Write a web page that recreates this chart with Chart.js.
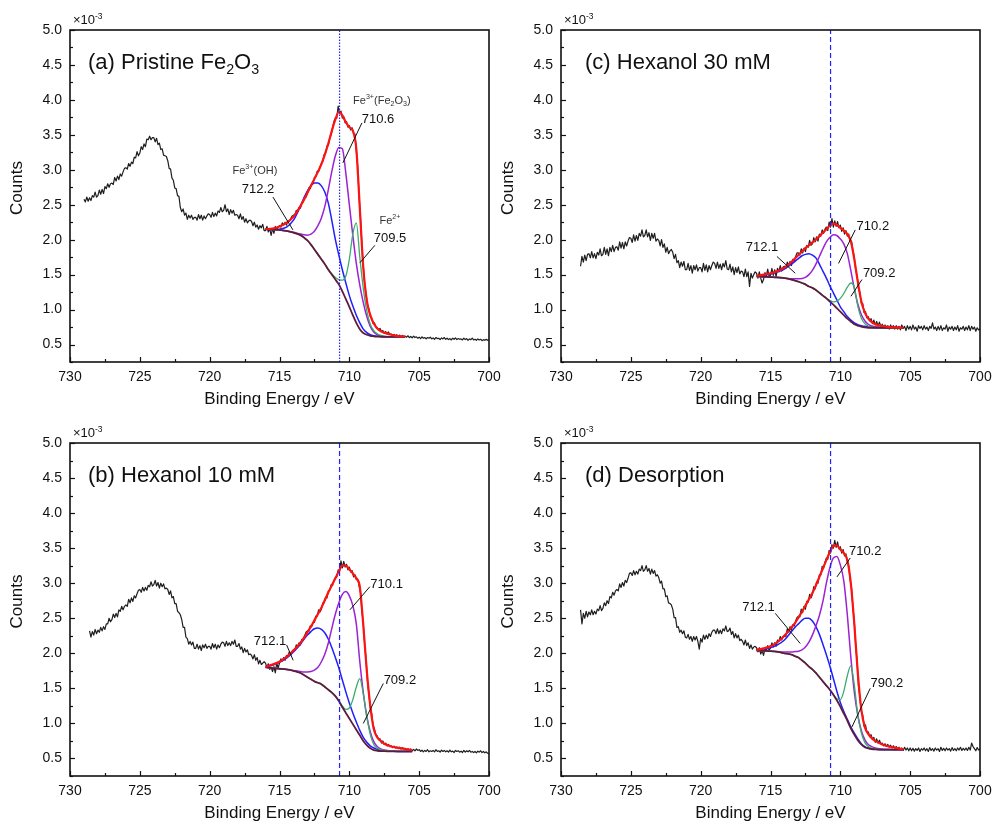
<!DOCTYPE html>
<html>
<head>
<meta charset="utf-8">
<title>Fe 2p XPS</title>
<script src="https://cdn.jsdelivr.net/npm/chart.js@4.4.1/dist/chart.umd.min.js"></script>
<style>
  html, body { margin: 0; padding: 0; background: #fff; }
  #fig { position: relative; width: 992px; height: 825px; overflow: hidden; }
  #fig canvas { position: absolute; }
</style>
</head>
<body>
<div id="fig">
  <canvas id="panel-a" width="510" height="412" style="left:0;top:0"></canvas>
  <canvas id="panel-c" width="510" height="412" style="left:482px;top:0"></canvas>
  <canvas id="panel-b" width="510" height="413" style="left:0;top:412px"></canvas>
  <canvas id="panel-d" width="510" height="413" style="left:482px;top:412px"></canvas>
</div>
<script>
/* ── Fe 2p spectra: 4 panels, raw counts + fitted components ─────────── */
const FONT = '"Liberation Sans", Arial, sans-serif';
const X_MIN = 700, X_MAX = 730, X_STEP = 2.5;
const Y_MIN = 0.25, Y_MAX = 5.0, Y_STEP = 0.25;
const REF_E = 710.7;          // dashed reference line (eV)
const EXP_STEP = 0.1;         // spacing of the measured points (eV)

// energies of the fitted curves (eV)
const FIT_E = [716, 715.5, 715, 714.5, 714, 713.5, 713.25, 713, 712.75, 712.5, 712.25, 712,
  711.75, 711.5, 711.25, 711, 710.75, 710.5, 710.25, 710, 709.75, 709.5, 709.25, 709,
  708.75, 708.5, 708.25, 708, 707.75, 707.5, 707, 706.5, 706, 705.5];

// ── (a) Pristine Fe2O3 ── measured counts, 729.0 eV downwards, one row per eV
const EXP_A_START = 729.0;
const EXP_A = [
  2.58, 2.54, 2.61, 2.55, 2.60, 2.56, 2.63, 2.61, 2.68, 2.61,
  2.63, 2.71, 2.65, 2.72, 2.66, 2.76, 2.73, 2.80, 2.75, 2.80,
  2.81, 2.79, 2.89, 2.84, 2.91, 2.86, 2.94, 2.91, 2.97, 3.02,
  3.03, 3.01, 3.09, 3.05, 3.11, 3.09, 3.18, 3.17, 3.26, 3.20,
  3.24, 3.33, 3.29, 3.37, 3.33, 3.44, 3.43, 3.48, 3.43, 3.46,
  3.46, 3.40, 3.45, 3.36, 3.38, 3.29, 3.30, 3.21, 3.20, 3.19,
  3.13, 3.02, 3.01, 2.88, 2.85, 2.74, 2.73, 2.63, 2.62, 2.46,
  2.40, 2.44, 2.35, 2.38, 2.29, 2.35, 2.31, 2.35, 2.29, 2.32,
  2.32, 2.28, 2.36, 2.30, 2.35, 2.28, 2.34, 2.30, 2.34, 2.37,
  2.36, 2.32, 2.39, 2.33, 2.38, 2.34, 2.41, 2.39, 2.46, 2.40,
  2.42, 2.50, 2.40, 2.44, 2.36, 2.43, 2.38, 2.42, 2.35, 2.36,
  2.35, 2.30, 2.37, 2.29, 2.33, 2.25, 2.30, 2.24, 2.27, 2.28,
  2.26, 2.20, 2.25, 2.18, 2.21, 2.15, 2.20, 2.17, 2.22, 2.13,
  2.13, 2.19, 2.11, 2.16, 2.06, 2.16, 2.09, 2.19, 2.14, 2.18,
  2.20, 2.18, 2.24, 2.21, 2.25, 2.21, 2.27, 2.26, 2.30, 2.34,
  2.35, 2.35, 2.42, 2.40, 2.46, 2.45, 2.53, 2.54, 2.62, 2.61,
  2.66, 2.74, 2.73, 2.80, 2.80, 2.89, 2.90, 2.98, 2.98, 3.04,
  3.09, 3.12, 3.22, 3.24, 3.34, 3.35, 3.46, 3.50, 3.60, 3.69,
  3.74, 3.74, 3.91, 3.81, 3.84, 3.74, 3.76, 3.67, 3.69, 3.61,
  3.63, 3.57, 3.60, 3.52, 3.51, 3.27, 3.04, 2.62, 2.31, 1.93,
  1.62, 1.36, 1.22, 1.07, 1.01, 0.90, 0.88, 0.80, 0.81, 0.75,
  0.74, 0.71, 0.73, 0.69, 0.70, 0.66, 0.685, 0.66, 0.68, 0.645,
  0.65, 0.63, 0.645, 0.62, 0.64, 0.61, 0.635, 0.61, 0.63, 0.615,
  0.62, 0.605, 0.625, 0.60, 0.615, 0.595, 0.62, 0.60, 0.61, 0.59,
  0.605, 0.585, 0.61, 0.59, 0.60, 0.58, 0.60, 0.59, 0.605, 0.58,
  0.595, 0.575, 0.60, 0.585, 0.59, 0.57, 0.595, 0.58, 0.60, 0.575,
  0.59, 0.57, 0.585, 0.565, 0.59, 0.575, 0.595, 0.57, 0.585, 0.575,
  0.58, 0.565, 0.59, 0.57, 0.585, 0.56, 0.58, 0.57, 0.59, 0.565,
  0.575, 0.56, 0.58, 0.565, 0.575, 0.555, 0.57, 0.56, 0.575, 0.56,
  0.565];
const RED_A = [2.15, 2.16, 2.19, 2.24, 2.33, 2.48, 2.57, 2.67, 2.77, 2.87, 2.97, 3.08,
  3.22, 3.38, 3.56, 3.72, 3.83, 3.78, 3.68, 3.61, 3.56, 3.30, 2.45, 1.60,
  1.13, 0.92, 0.80, 0.73, 0.69, 0.67, 0.64, 0.62, 0.615];
const BG_A = [2.15, 2.145, 2.14, 2.125, 2.10, 2.065, 2.03, 1.99, 1.93, 1.86, 1.79, 1.72,
  1.65, 1.57, 1.50, 1.43, 1.36, 1.26, 1.15, 1.04, 0.92, 0.81, 0.72, 0.665,
  0.64, 0.625, 0.618, 0.614, 0.612, 0.61, 0.61, 0.61, 0.61];
const BLUE_A = [2.15, 2.145, 2.15, 2.18, 2.28, 2.48, 2.60, 2.70, 2.77, 2.81, 2.81, 2.77,
  2.68, 2.52, 2.27, 2.00, 1.78, 1.57, 1.38, 1.20, 1.05, 0.92, 0.81, 0.72,
  0.67, 0.64, 0.625, 0.617, 0.613, 0.61, 0.61, 0.61, 0.61];
const PURPLE_A = [2.15, 2.145, 2.14, 2.125, 2.105, 2.08, 2.07, 2.065, 2.08, 2.12, 2.20, 2.31,
  2.48, 2.72, 2.98, 3.20, 3.32, 3.30, 2.95, 2.50, 2.06, 1.66, 1.35, 1.10,
  0.90, 0.76, 0.68, 0.64, 0.625, 0.615, 0.61, 0.61, 0.61];
const GREEN_A = [2.15, 2.145, 2.14, 2.125, 2.10, 2.065, 2.03, 1.99, 1.93, 1.86, 1.79, 1.72,
  1.65, 1.57, 1.51, 1.46, 1.43, 1.42, 1.48, 1.72, 2.08, 2.24, 1.75, 1.30,
  0.98, 0.79, 0.70, 0.655, 0.63, 0.62, 0.61, 0.61, 0.61];

// ── (b) Hexanol 10 mM ── first row 728.6-728.1, then one row per eV
const EXP_B_START = 728.6;
const EXP_B = [
  2.32, 2.23, 2.31, 2.26, 2.34, 2.28,
  2.33, 2.30, 2.37, 2.32, 2.38, 2.34, 2.42, 2.42, 2.50, 2.45,
  2.48, 2.56, 2.51, 2.57, 2.52, 2.62, 2.60, 2.67, 2.62, 2.67,
  2.69, 2.67, 2.77, 2.72, 2.79, 2.74, 2.82, 2.79, 2.85, 2.90,
  2.91, 2.87, 2.94, 2.89, 2.94, 2.90, 2.97, 2.95, 3.02, 2.96,
  2.98, 3.04, 2.96, 3.01, 2.93, 3.00, 2.95, 2.99, 2.92, 2.93,
  2.91, 2.84, 2.89, 2.79, 2.81, 2.71, 2.71, 2.60, 2.58, 2.55,
  2.48, 2.37, 2.37, 2.23, 2.21, 2.13, 2.17, 2.12, 2.16, 2.07,
  2.07, 2.13, 2.06, 2.11, 2.04, 2.12, 2.08, 2.13, 2.07, 2.10,
  2.10, 2.06, 2.14, 2.08, 2.13, 2.06, 2.12, 2.08, 2.13, 2.16,
  2.15, 2.10, 2.17, 2.11, 2.15, 2.11, 2.17, 2.13, 2.19, 2.10,
  2.10, 2.14, 2.06, 2.09, 2.01, 2.07, 2.02, 2.05, 1.98, 1.99,
  1.97, 1.92, 1.98, 1.90, 1.94, 1.85, 1.90, 1.84, 1.86, 1.88,
  1.86, 1.80, 1.85, 1.77, 1.80, 1.74, 1.81, 1.72, 1.86, 1.79,
  1.86, 1.92, 1.89, 1.94, 1.90, 1.97, 1.96, 2.02, 1.98, 2.03,
  2.05, 2.04, 2.12, 2.09, 2.15, 2.12, 2.20, 2.19, 2.25, 2.30,
  2.32, 2.31, 2.39, 2.38, 2.44, 2.44, 2.53, 2.53, 2.62, 2.59,
  2.63, 2.72, 2.72, 2.80, 2.79, 2.89, 2.90, 2.98, 2.97, 3.04,
  3.08, 3.09, 3.19, 3.17, 3.32, 3.22, 3.31, 3.23, 3.27, 3.19,
  3.23, 3.16, 3.18, 3.09, 3.12, 3.05, 3.06, 2.96, 2.87, 2.60,
  2.42, 2.12, 1.91, 1.60, 1.42, 1.23, 1.14, 0.97, 0.92, 0.84,
  0.82, 0.77, 0.78, 0.72, 0.75, 0.70, 0.72, 0.68, 0.70, 0.67,
  0.68, 0.655, 0.675, 0.65, 0.665, 0.64, 0.66, 0.635, 0.655, 0.64,
  0.645, 0.62, 0.64, 0.615, 0.635, 0.61, 0.63, 0.61, 0.635, 0.615,
  0.625, 0.60, 0.62, 0.595, 0.615, 0.60, 0.625, 0.595, 0.61, 0.60,
  0.615, 0.595, 0.625, 0.60, 0.61, 0.59, 0.62, 0.60, 0.615, 0.595,
  0.61, 0.59, 0.62, 0.595, 0.605, 0.585, 0.615, 0.60, 0.61, 0.59,
  0.605, 0.585, 0.615, 0.59, 0.61, 0.595, 0.615, 0.59, 0.60, 0.585,
  0.60, 0.58, 0.605, 0.59, 0.61, 0.585, 0.60, 0.58, 0.595, 0.575,
  0.57];
const RED_B = [1.81, 1.84, 1.88, 1.95, 2.04, 2.15, 2.22, 2.30, 2.38, 2.47, 2.56, 2.65,
  2.76, 2.87, 2.97, 3.07, 3.17, 3.25, 3.25, 3.20, 3.14, 3.07, 2.95, 2.40,
  1.75, 1.25, 0.92, 0.80, 0.75, 0.71, 0.67, 0.65, 0.635, 0.62];
const BG_B = [1.80, 1.79, 1.78, 1.77, 1.75, 1.72, 1.69, 1.66, 1.63, 1.60, 1.58, 1.56,
  1.52, 1.48, 1.44, 1.39, 1.32, 1.23, 1.15, 1.07, 0.99, 0.91, 0.83, 0.75,
  0.69, 0.645, 0.62, 0.61, 0.605, 0.605, 0.60, 0.60, 0.60, 0.60];
const BLUE_B = [1.81, 1.83, 1.87, 1.93, 2.02, 2.13, 2.20, 2.26, 2.31, 2.35, 2.36, 2.34,
  2.29, 2.20, 2.08, 1.94, 1.79, 1.62, 1.45, 1.29, 1.15, 1.02, 0.90, 0.80,
  0.73, 0.68, 0.65, 0.63, 0.62, 0.61, 0.605, 0.60, 0.60, 0.60];
const PURPLE_B = [1.80, 1.79, 1.78, 1.77, 1.755, 1.74, 1.735, 1.735, 1.74, 1.76, 1.80, 1.88,
  1.99, 2.15, 2.36, 2.56, 2.72, 2.84, 2.88, 2.82, 2.68, 2.42, 1.88, 1.44,
  1.10, 0.88, 0.74, 0.67, 0.635, 0.62, 0.605, 0.60, 0.60, 0.60];
const GREEN_B = [1.80, 1.79, 1.78, 1.77, 1.75, 1.72, 1.69, 1.66, 1.63, 1.60, 1.58, 1.56,
  1.52, 1.48, 1.44, 1.39, 1.32, 1.25, 1.20, 1.22, 1.34, 1.52, 1.64, 1.42,
  1.10, 0.84, 0.70, 0.645, 0.625, 0.615, 0.605, 0.60, 0.60, 0.60];

// ── (c) Hexanol 30 mM ─────────────────────────────────────────────────
const EXP_C_START = 728.6;
const EXP_C = [
  1.62, 1.76, 1.68, 1.78, 1.70, 1.79,
  1.80, 1.74, 1.83, 1.74, 1.80, 1.73, 1.82, 1.78, 1.87, 1.77,
  1.79, 1.89, 1.79, 1.87, 1.77, 1.89, 1.83, 1.92, 1.83, 1.89,
  1.90, 1.85, 1.97, 1.88, 1.96, 1.87, 1.97, 1.91, 1.98, 2.03,
  2.02, 1.96, 2.07, 1.98, 2.06, 1.99, 2.09, 2.05, 2.14, 2.04,
  2.06, 2.14, 2.04, 2.10, 1.99, 2.09, 2.02, 2.09, 1.98, 2.01,
  1.99, 1.91, 2.00, 1.89, 1.94, 1.82, 1.89, 1.80, 1.84, 1.86,
  1.82, 1.73, 1.79, 1.67, 1.70, 1.60, 1.68, 1.62, 1.69, 1.57,
  1.57, 1.66, 1.56, 1.63, 1.52, 1.63, 1.57, 1.64, 1.55, 1.60,
  1.60, 1.54, 1.66, 1.56, 1.64, 1.54, 1.63, 1.57, 1.63, 1.68,
  1.66, 1.59, 1.68, 1.59, 1.65, 1.57, 1.66, 1.61, 1.70, 1.58,
  1.57, 1.65, 1.54, 1.61, 1.50, 1.60, 1.53, 1.61, 1.51, 1.55,
  1.54, 1.47, 1.58, 1.47, 1.54, 1.33, 1.52, 1.45, 1.50, 1.54,
  1.52, 1.45, 1.54, 1.45, 1.38, 1.43, 1.53, 1.48, 1.58, 1.47,
  1.49, 1.59, 1.49, 1.57, 1.47, 1.59, 1.54, 1.63, 1.55, 1.61,
  1.62, 1.59, 1.68, 1.63, 1.69, 1.63, 1.72, 1.69, 1.76, 1.81,
  1.81, 1.78, 1.87, 1.81, 1.88, 1.83, 1.92, 1.89, 1.99, 1.92,
  1.94, 2.03, 1.97, 2.04, 1.98, 2.08, 2.05, 2.14, 2.09, 2.15,
  2.18, 2.13, 2.25, 2.18, 2.30, 2.18, 2.27, 2.19, 2.26, 2.17,
  2.21, 2.12, 2.17, 2.08, 2.13, 2.05, 2.08, 1.98, 1.98, 1.85,
  1.75, 1.56, 1.49, 1.30, 1.24, 1.09, 1.09, 0.96, 0.97, 0.88,
  0.90, 0.84, 0.87, 0.80, 0.85, 0.78, 0.83, 0.77, 0.82, 0.76,
  0.79, 0.74, 0.78, 0.73, 0.77, 0.72, 0.78, 0.74, 0.77, 0.72,
  0.77, 0.72, 0.76, 0.71, 0.78, 0.73, 0.76, 0.70, 0.77, 0.72,
  0.76, 0.71, 0.78, 0.72, 0.75, 0.69, 0.77, 0.73, 0.76, 0.71,
  0.77, 0.72, 0.75, 0.70, 0.76, 0.73, 0.81, 0.72, 0.75, 0.70,
  0.76, 0.71, 0.77, 0.70, 0.74, 0.72, 0.78, 0.69, 0.75, 0.72,
  0.76, 0.70, 0.75, 0.71, 0.77, 0.69, 0.74, 0.72, 0.76, 0.70,
  0.75, 0.71, 0.77, 0.70, 0.76, 0.72, 0.75, 0.69, 0.74, 0.71,
  0.72];
const RED_C = [1.48, 1.50, 1.52, 1.55, 1.60, 1.68, 1.73, 1.78, 1.83, 1.88, 1.92, 1.96,
  2.00, 2.05, 2.10, 2.15, 2.20, 2.23, 2.21, 2.17, 2.13, 2.08, 1.98, 1.72,
  1.40, 1.12, 0.96, 0.87, 0.82, 0.79, 0.765, 0.75, 0.745, 0.74];
const BG_C = [1.475, 1.47, 1.465, 1.46, 1.45, 1.43, 1.415, 1.40, 1.38, 1.36, 1.33, 1.31,
  1.28, 1.24, 1.20, 1.16, 1.115, 1.07, 1.02, 0.97, 0.92, 0.87, 0.83, 0.79,
  0.77, 0.755, 0.745, 0.74, 0.74, 0.74, 0.74, 0.74, 0.74, 0.74];
const BLUE_C = [1.48, 1.49, 1.51, 1.54, 1.58, 1.65, 1.69, 1.73, 1.77, 1.79, 1.80, 1.78,
  1.74, 1.65, 1.55, 1.45, 1.34, 1.24, 1.14, 1.04, 0.97, 0.90, 0.85, 0.81,
  0.785, 0.77, 0.76, 0.75, 0.745, 0.74, 0.74, 0.74, 0.74, 0.74];
const PURPLE_C = [1.475, 1.47, 1.465, 1.46, 1.45, 1.44, 1.44, 1.44, 1.445, 1.46, 1.50, 1.56,
  1.65, 1.76, 1.87, 1.97, 2.03, 2.07, 2.06, 2.01, 1.94, 1.80, 1.56, 1.30,
  1.08, 0.93, 0.84, 0.79, 0.765, 0.755, 0.745, 0.74, 0.74, 0.74];
const GREEN_C = [1.475, 1.47, 1.465, 1.46, 1.45, 1.43, 1.415, 1.40, 1.38, 1.36, 1.33, 1.31,
  1.28, 1.24, 1.20, 1.16, 1.13, 1.11, 1.12, 1.16, 1.23, 1.32, 1.38, 1.32,
  1.05, 0.88, 0.80, 0.765, 0.75, 0.745, 0.74, 0.74, 0.74, 0.74];

// ── (d) Desorption ────────────────────────────────────────────────────
const EXP_D_START = 728.6;
const EXP_D = [
  2.62, 2.42, 2.57, 2.50, 2.60, 2.52,
  2.59, 2.55, 2.62, 2.55, 2.60, 2.56, 2.63, 2.61, 2.68, 2.61,
  2.64, 2.72, 2.68, 2.75, 2.71, 2.81, 2.79, 2.87, 2.83, 2.89,
  2.91, 2.89, 2.99, 2.94, 3.01, 2.96, 3.04, 3.01, 3.07, 3.14,
  3.15, 3.11, 3.18, 3.12, 3.17, 3.13, 3.20, 3.18, 3.25, 3.17,
  3.19, 3.25, 3.17, 3.21, 3.13, 3.20, 3.14, 3.18, 3.10, 3.12,
  3.08, 3.00, 3.03, 2.92, 2.92, 2.81, 2.82, 2.72, 2.71, 2.69,
  2.63, 2.51, 2.51, 2.37, 2.38, 2.30, 2.33, 2.28, 2.32, 2.23,
  2.22, 2.27, 2.20, 2.24, 2.17, 2.24, 2.19, 2.24, 2.17, 2.06,
  2.21, 2.16, 2.26, 2.20, 2.26, 2.21, 2.28, 2.24, 2.30, 2.33,
  2.33, 2.28, 2.35, 2.28, 2.33, 2.28, 2.35, 2.32, 2.39, 2.31,
  2.32, 2.36, 2.27, 2.31, 2.22, 2.28, 2.22, 2.26, 2.18, 2.20,
  2.17, 2.12, 2.19, 2.11, 2.15, 2.07, 2.12, 2.06, 2.09, 2.10,
  2.08, 2.02, 2.08, 1.99, 2.04, 1.97, 2.06, 2.04, 2.11, 2.04,
  2.08, 2.15, 2.09, 2.15, 2.10, 2.19, 2.17, 2.24, 2.19, 2.24,
  2.26, 2.24, 2.35, 2.30, 2.38, 2.33, 2.41, 2.39, 2.46, 2.51,
  2.53, 2.52, 2.63, 2.58, 2.67, 2.63, 2.74, 2.73, 2.84, 2.79,
  2.84, 2.95, 2.92, 3.02, 3.00, 3.12, 3.12, 3.24, 3.21, 3.30,
  3.36, 3.34, 3.47, 3.43, 3.55, 3.50, 3.61, 3.51, 3.59, 3.49,
  3.52, 3.43, 3.48, 3.39, 3.42, 3.30, 3.25, 3.05, 2.93, 2.65,
  2.45, 2.11, 1.89, 1.53, 1.38, 1.17, 1.12, 0.96, 0.98, 0.88,
  0.88, 0.81, 0.84, 0.77, 0.80, 0.73, 0.78, 0.72, 0.76, 0.71,
  0.72, 0.68, 0.71, 0.67, 0.70, 0.66, 0.69, 0.65, 0.68, 0.645,
  0.67, 0.63, 0.66, 0.62, 0.65, 0.615, 0.66, 0.62, 0.65, 0.61,
  0.65, 0.61, 0.645, 0.605, 0.64, 0.615, 0.65, 0.60, 0.64, 0.62,
  0.65, 0.61, 0.64, 0.60, 0.655, 0.615, 0.64, 0.605, 0.65, 0.62,
  0.64, 0.60, 0.66, 0.615, 0.645, 0.61, 0.65, 0.62, 0.64, 0.605,
  0.655, 0.615, 0.64, 0.61, 0.65, 0.62, 0.66, 0.615, 0.645, 0.62,
  0.65, 0.615, 0.66, 0.62, 0.72, 0.67, 0.64, 0.61, 0.655, 0.62,
  0.63];
const RED_D = [2.05, 2.07, 2.10, 2.16, 2.25, 2.37, 2.43, 2.51, 2.59, 2.68, 2.77, 2.86,
  2.97, 3.09, 3.21, 3.33, 3.44, 3.53, 3.54, 3.48, 3.43, 3.33, 3.00, 2.42,
  1.72, 1.20, 0.95, 0.85, 0.79, 0.75, 0.70, 0.67, 0.65, 0.63];
const BG_D = [2.04, 2.035, 2.03, 2.02, 2.00, 1.98, 1.96, 1.94, 1.90, 1.86, 1.81, 1.77,
  1.72, 1.66, 1.60, 1.54, 1.48, 1.41, 1.33, 1.24, 1.14, 1.04, 0.93, 0.84,
  0.76, 0.70, 0.66, 0.645, 0.635, 0.63, 0.625, 0.625, 0.625, 0.625];
const BLUE_D = [2.05, 2.06, 2.08, 2.12, 2.19, 2.31, 2.37, 2.42, 2.47, 2.50, 2.50, 2.46,
  2.38, 2.27, 2.13, 1.98, 1.82, 1.64, 1.46, 1.30, 1.17, 1.06, 0.95, 0.86,
  0.78, 0.71, 0.67, 0.65, 0.64, 0.63, 0.625, 0.625, 0.625, 0.625];
const PURPLE_D = [2.04, 2.035, 2.03, 2.025, 2.02, 2.02, 2.025, 2.03, 2.05, 2.09, 2.16, 2.26,
  2.39, 2.54, 2.74, 3.00, 3.22, 3.36, 3.38, 3.26, 3.03, 2.55, 1.95, 1.45,
  1.12, 0.90, 0.77, 0.70, 0.67, 0.65, 0.635, 0.63, 0.625, 0.625];
const GREEN_D = [2.04, 2.035, 2.03, 2.02, 2.00, 1.98, 1.96, 1.94, 1.90, 1.86, 1.81, 1.77,
  1.72, 1.66, 1.60, 1.54, 1.48, 1.41, 1.35, 1.34, 1.46, 1.68, 1.82, 1.55,
  1.12, 0.87, 0.73, 0.67, 0.645, 0.635, 0.625, 0.625, 0.625, 0.625];

// ── peak labels: [text parts, E, counts, size] and leader lines [E1, c1, E2, c2] ──
const FE3_OH    = [['Fe', ''], ['3+', 'sup'], ['(OH)', '']];
const FE3_FE2O3 = [['Fe', ''], ['3+', 'sup'], ['(Fe', ''], ['2', 'sub'], ['O', ''], ['3', 'sub'], [')', '']];
const FE2       = [['Fe', ''], ['2+', 'sup']];
const NOTES_A = {
  labels: [[FE3_OH, 716.76, 3.0, 11], [[['712.2', '']], 716.54, 2.73, 13],
           [FE3_FE2O3, 707.67, 4.0, 11], [[['710.6', '']], 707.95, 3.74, 13],
           [FE2, 707.09, 2.28, 11], [[['709.5', '']], 707.09, 2.03, 13]],
  lines: [[715.47, 2.61, 714.04, 2.14], [709.1, 3.67, 710.46, 3.1], [708.17, 1.92, 709.24, 1.67]]
};
const NOTES_B = {
  labels: [[[['712.1', '']], 715.68, 2.19, 13], [[['710.1', '']], 707.33, 3.0, 13], [[['709.2', '']], 706.38, 1.63, 13]],
  lines: [[714.49, 2.12, 714.02, 1.90], [708.53, 2.95, 709.96, 2.62], [707.57, 1.57, 709.0, 1.0]]
};
const NOTES_C = {
  labels: [[[['712.1', '']], 715.61, 1.90, 13], [[['710.2', '']], 707.67, 2.21, 13], [[['709.2', '']], 707.22, 1.53, 13]],
  lines: [[714.54, 1.76, 713.23, 1.52], [708.93, 2.14, 710.13, 1.66], [708.45, 1.43, 709.24, 1.19]]
};
const NOTES_D = {
  labels: [[[['712.1', '']], 715.86, 2.67, 13], [[['710.2', '']], 708.22, 3.47, 13], [[['790.2', '']], 706.67, 1.58, 13]],
  lines: [[714.66, 2.57, 712.87, 2.14], [709.29, 3.36, 710.24, 3.09], [707.86, 1.50, 709.17, 0.95]]
};

const COL = {
  exp: '#1e1e1e', red: '#ff1212', bg: '#5e1c3c', green: '#3aac6a',
  purple: '#9c22d4', blue: '#1f1fff', ref: '#2323ff', ink: '#111'
};

const PANELS = [
  { canvas: 'panel-a', box: { l: 70, t: 30, r: 489, b: 362 }, e0: EXP_A_START, exp: EXP_A,
    red: RED_A, bg: BG_A, green: GREEN_A, purple: PURPLE_A, blue: BLUE_A, refDash: [1.5, 1.5],
    title: [['(a) Pristine Fe', ''], ['2', 'sub'], ['O', ''], ['3', 'sub']], titleDx: 18, notes: NOTES_A },
  { canvas: 'panel-c', box: { l: 79, t: 30, r: 498, b: 362 }, e0: EXP_C_START, exp: EXP_C,
    red: RED_C, bg: BG_C, green: GREEN_C, purple: PURPLE_C, blue: BLUE_C, refDash: [5, 3],
    title: [['(c) Hexanol 30 mM', '']], titleDx: 24, notes: NOTES_C },
  { canvas: 'panel-b', box: { l: 70, t: 31, r: 489, b: 364 }, e0: EXP_B_START, exp: EXP_B,
    red: RED_B, bg: BG_B, green: GREEN_B, purple: PURPLE_B, blue: BLUE_B, refDash: [5, 3],
    title: [['(b) Hexanol 10 mM', '']], titleDx: 18, notes: NOTES_B },
  { canvas: 'panel-d', box: { l: 79, t: 31, r: 498, b: 364 }, e0: EXP_D_START, exp: EXP_D,
    red: RED_D, bg: BG_D, green: GREEN_D, purple: PURPLE_D, blue: BLUE_D, refDash: [5, 3],
    title: [['(d) Desorption', '']], titleDx: 24, notes: NOTES_D }
];

const pts = (xs, ys) => ys.map((y, i) => ({ x: xs[i], y }));
const expPts = (e0, ys) => ys.map((y, i) => ({ x: +(e0 - i * EXP_STEP).toFixed(2), y }));
const isHalf = v => Math.abs(v * 2 - Math.round(v * 2)) < 1e-6;

// text with sub/superscripts, drawn on the alphabetic baseline
function richText(ctx, parts, x, y, size, align) {
  const fontOf = k => `${k ? size * 0.65 : size}px ${FONT}`;
  let w = 0;
  parts.forEach(([t, k]) => { ctx.font = fontOf(k); w += ctx.measureText(t).width; });
  let cx = align === 'center' ? x - w / 2 : x;
  ctx.textAlign = 'left';
  ctx.textBaseline = 'alphabetic';
  parts.forEach(([t, k]) => {
    ctx.font = fontOf(k);
    const dy = k === 'sub' ? size * 0.24 : k === 'sup' ? -size * 0.42 : 0;
    ctx.fillText(t, cx, y + dy);
    cx += ctx.measureText(t).width;
  });
}

function decor(p) {
  return {
    id: 'decor',
    afterDraw(chart) {
      const { ctx, chartArea: a, scales: { x, y } } = chart;
      ctx.save();
      ctx.strokeStyle = COL.ink;
      ctx.fillStyle = COL.ink;

      // inward tick marks
      ctx.lineWidth = 1.2;
      x.ticks.forEach(t => {
        const px = Math.round(x.getPixelForValue(t.value)) + 0.5;
        ctx.beginPath(); ctx.moveTo(px, a.bottom); ctx.lineTo(px, a.bottom - (t.label !== '' ? 5 : 3)); ctx.stroke();
      });
      y.ticks.forEach(t => {
        const py = Math.round(y.getPixelForValue(t.value)) + 0.5;
        ctx.beginPath(); ctx.moveTo(a.left, py); ctx.lineTo(a.left + (t.label !== '' ? 5 : 3), py); ctx.stroke();
      });

      // frame
      ctx.lineWidth = 1.6;
      ctx.strokeRect(a.left, a.top, a.right - a.left, a.bottom - a.top);

      // axis titles
      ctx.font = `17px ${FONT}`;
      ctx.textAlign = 'center';
      ctx.textBaseline = 'middle';
      ctx.fillText('Binding Energy / eV', (a.left + a.right) / 2, a.bottom + 37);
      ctx.save();
      ctx.translate(a.left - 53, (a.top + a.bottom) / 2 - 8);
      ctx.rotate(-Math.PI / 2);
      ctx.fillText('Counts', 0, 0);
      ctx.restore();

      // scale factor and panel title
      richText(ctx, [['\u00d710', ''], ['-3', 'sup']], a.left + 3, a.top - 6, 13, 'left');
      richText(ctx, p.title, a.left + p.titleDx, a.top + 39, 22, 'left');

      // peak labels and leader lines
      ctx.lineWidth = 1;
      p.notes.lines.forEach(([e1, c1, e2, c2]) => {
        ctx.beginPath();
        ctx.moveTo(x.getPixelForValue(e1), y.getPixelForValue(c1));
        ctx.lineTo(x.getPixelForValue(e2), y.getPixelForValue(c2));
        ctx.stroke();
      });
      p.notes.labels.forEach(([parts, e, c, size]) => {
        ctx.fillStyle = size < 12 ? '#333' : COL.ink;
        richText(ctx, parts, x.getPixelForValue(e), y.getPixelForValue(c) + size * 0.36, size, 'center');
      });
      ctx.restore();
    }
  };
}

function buildPanel(p) {
  const el = document.getElementById(p.canvas);
  const W = el.width, H = el.height;
  const fit = (ys, color, width) => ({
    data: pts(FIT_E, ys), borderColor: color, borderWidth: width,
    pointRadius: 0, fill: false, cubicInterpolationMode: 'monotone'
  });
  const tickFont = { family: FONT, size: 14 };

  new Chart(el, {
    type: 'line',
    data: {
      datasets: [
        { data: [{ x: REF_E, y: Y_MIN }, { x: REF_E, y: Y_MAX }], borderColor: COL.ref,
          borderWidth: 1.2, borderDash: p.refDash, pointRadius: 0, fill: false },
        fit(p.red, COL.red, 2.2),
        fit(p.bg, COL.bg, 1.8),
        fit(p.green, COL.green, 1.3),
        fit(p.purple, COL.purple, 1.5),
        fit(p.blue, COL.blue, 1.5),
        { data: expPts(p.e0, p.exp), borderColor: COL.exp, borderWidth: 1.2, pointRadius: 0,
          tension: 0, fill: false, borderJoinStyle: 'round' }
      ]
    },
    options: {
      responsive: false,
      animation: false,
      devicePixelRatio: 1,
      layout: { padding: { left: 0, top: p.box.t, right: W - p.box.r, bottom: 0 } },
      plugins: { legend: { display: false }, tooltip: { enabled: false } },
      scales: {
        x: {
          type: 'linear', reverse: true, min: X_MIN, max: X_MAX,
          grid: { display: false, drawTicks: false }, border: { display: false },
          ticks: { stepSize: X_STEP, autoSkip: false, maxRotation: 0, padding: 7, color: COL.ink,
                   font: tickFont, callback: v => (v % 5 === 0 ? String(v) : '') },
          afterFit: s => { s.height = H - p.box.b; s.paddingLeft = 0; s.paddingRight = 0; }
        },
        y: {
          type: 'linear', min: Y_MIN, max: Y_MAX,
          grid: { display: false, drawTicks: false }, border: { display: false },
          ticks: { stepSize: Y_STEP, autoSkip: false, padding: 8, color: COL.ink,
                   font: tickFont, callback: v => (isHalf(v) ? v.toFixed(1) : '') },
          afterFit: s => { s.width = p.box.l; s.paddingTop = 0; s.paddingBottom = 0; }
        }
      }
    },
    plugins: [decor(p)]
  });
}

PANELS.forEach(buildPanel);
</script>
</body>
</html>
